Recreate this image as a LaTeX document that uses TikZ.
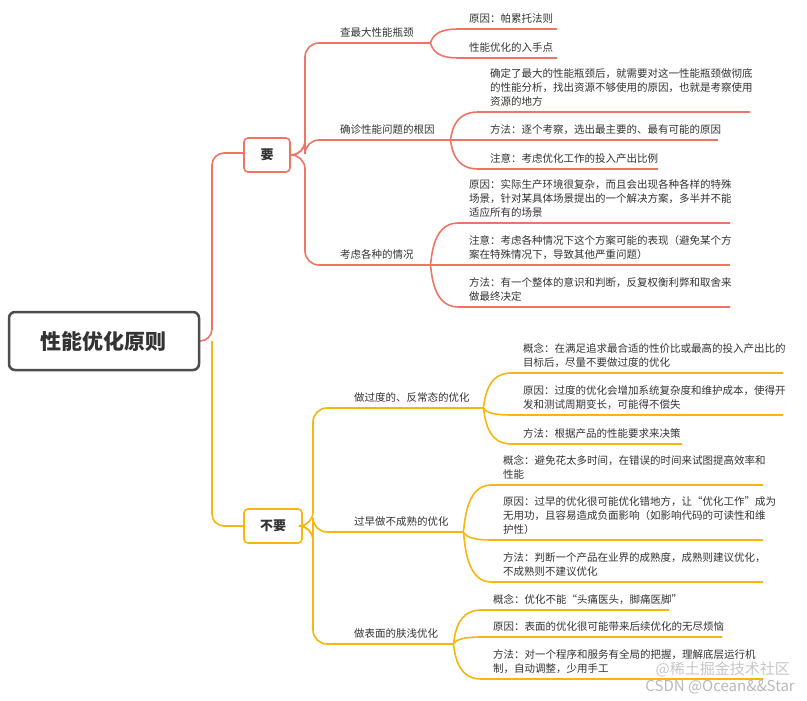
\documentclass[tikz,border=0pt]{standalone}
\usepackage{fontspec}
\setmainfont{Noto Sans CJK SC}
\definecolor{rd}{HTML}{EE7565}
\definecolor{yl}{HTML}{F6B60E}
\definecolor{tx}{HTML}{333333}
\tikzset{
  ln/.style={line width=1.6pt, rounded corners=14pt},
  sl/.style={line width=1.6pt},
  lbl/.style={anchor=south west, inner sep=0pt, text=tx, font=\fontsize{10.5}{14}\selectfont, align=left},
  box/.style={draw, line width=1.6pt, rounded corners=4pt, fill=white, text=tx, font=\fontsize{13}{15}\selectfont\bfseries, minimum height=34pt}
}
% top-level: #1 color, #2 x0, #3 y0, #4 x of bend, #5 y1, #6 x start, #7 x end
\newcommand\conn[7]{\draw[ln,#1] (#2,#3) -- (#4,#3) -- (#4,#5) -- (#7,#5);}
% sub-level smooth: #1 color, #2 x0, #3 y0, #4 y1, #5 x end
\newcommand\sub[5]{\draw[sl,#1] (#2,#3) .. controls ($(#2,#3)+(2,0)$) and ($(#2,#4)+(0,0)$) .. ($(#2,#4)+(28,0)$) -- (#5,#4);}
\usetikzlibrary{calc}
\begin{document}
\begin{tikzpicture}[x=1pt,y=-1pt]
\useasboundingbox (0,0) rectangle (807,701);
% root
\draw[line width=1.6pt,rd,rounded corners=12pt] (200,341) -- (212,341) -- (212,153) -- (244,153);
\draw[line width=1.6pt,yl,rounded corners=12pt] (212,341) -- (212,526) -- (244,526);
\node[draw=gray!60!black, line width=2.5pt, rounded corners=6pt, fill=white, minimum width=190pt, minimum height=58pt, text=tx, font=\fontsize{21}{24}\selectfont\bfseries] (root) at (104,341) {性能优化原则};
\node[box,draw=rd,minimum width=46pt] (yao) at (267,155) {要};
\node[box,draw=yl,minimum width=58pt] (buyao) at (273,526) {不要};

% ---- 要 branches
\conn{rd}{290}{155}{305}{43}{330}{430}
\conn{rd}{290}{155}{305}{140}{330}{450}
\conn{rd}{290}{155}{305}{265}{330}{430}
\node[lbl] (a1) at (340,38) {查最大性能瓶颈};
\node[lbl] (a2) at (340,135) {确诊性能问题的根因};
\node[lbl] (a3) at (340,260) {考虑各种的情况};

\sub{rd}{430}{43}{29}{557}
\sub{rd}{430}{43}{58}{557}
\node[lbl] at (469,24) {原因：帕累托法则};
\node[lbl] at (469,53) {性能优化的入手点};

\sub{rd}{450}{140}{112}{750}
\sub{rd}{450}{140}{140}{718}
\sub{rd}{450}{140}{169}{658}
\node[lbl] at (490,107) {确定了最大的性能瓶颈后，就需要对这一性能瓶颈做彻底\\的性能分析，找出资源不够使用的原因，也就是考察使用\\资源的地方};
\node[lbl] at (490,135) {方法：逐个考察，选出最主要的、最有可能的原因};
\node[lbl] at (490,164) {注意：考虑优化工作的投入产出比例};

\sub{rd}{430}{265}{223}{730}
\sub{rd}{430}{265}{265}{730}
\sub{rd}{430}{265}{307}{730}
\node[lbl] at (469,218) {原因：实际生产环境很复杂，而且会出现各种各样的特殊\\场景，针对某具体场景提出的一个解决方案，多半并不能\\适应所有的场景};
\node[lbl] at (469,260) {注意：考虑各种情况下这个方案可能的表现（避免某个方\\案在特殊情况下，导致其他严重问题）};
\node[lbl] at (469,302) {方法：有一个整体的意识和判断，反复权衡利弊和取舍来\\做最终决定};

% ---- 不要 branches
\conn{yl}{302}{526}{313}{408}{330}{483}
\conn{yl}{302}{526}{313}{532}{330}{463}
\conn{yl}{302}{526}{313}{644}{330}{453}
\node[lbl] (b1) at (354,403) {做过度的、反常态的优化};
\node[lbl] (b2) at (354,527) {过早做不成熟的优化};
\node[lbl] (b3) at (354,639) {做表面的肤浅优化};

\sub{yl}{483}{408}{373}{783}
\sub{yl}{483}{408}{415}{783}
\sub{yl}{483}{408}{444}{682}
\node[lbl] at (523,368) {概念：在满足追求最合适的性价比或最高的投入产出比的\\目标后，尽量不要做过度的优化};
\node[lbl] at (523,410) {原因：过度的优化会增加系统复杂度和维护成本，使得开\\发和测试周期变长，可能得不偿失};
\node[lbl] at (523,439) {方法：根据产品的性能要求来决策};

\sub{yl}{463}{532}{485}{763}
\sub{yl}{463}{532}{540}{763}
\sub{yl}{463}{532}{582}{763}
\node[lbl] at (503,480) {概念：避免花太多时间，在错误的时间来试图提高效率和\\性能};
\node[lbl] at (503,535) {原因：过早的优化很可能优化错地方，让“优化工作”成为\\无用功，且容易造成负面影响（如影响代码的可读性和维\\护性）};
\node[lbl] at (503,577) {方法：判断一个产品在业界的成熟度，成熟则建议优化，\\不成熟则不建议优化};

\sub{yl}{453}{644}{610}{669}
\sub{yl}{453}{644}{637}{722}
\sub{yl}{453}{644}{679}{763}
\node[lbl] at (493,605) {概念：优化不能“头痛医头，脚痛医脚”};
\node[lbl] at (493,632) {原因：表面的优化很可能带来后续优化的无尽烦恼};
\node[lbl] at (493,674) {方法：对一个程序和服务有全局的把握，理解底层运行机\\制，自动调整，少用手工};

% watermark
\node[anchor=south east, inner sep=0pt, text=gray!45, font=\fontsize{15}{17}\selectfont] (wm1) at (790,677) {@稀土掘金技术社区};
\node[anchor=south east, inner sep=0pt, text=gray!55, font=\fontsize{15}{17}\selectfont] (wm2) at (795,694) {CSDN @Ocean\&\&Star};
\end{tikzpicture}
\end{document}
